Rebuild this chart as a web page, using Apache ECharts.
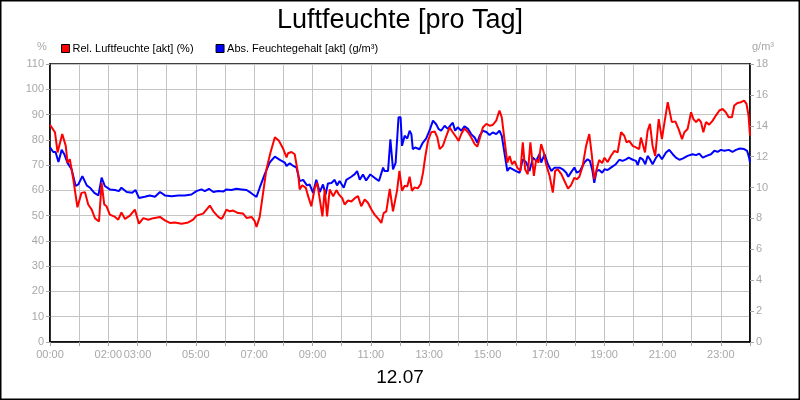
<!DOCTYPE html>
<html><head><meta charset="utf-8">
<script src="https://cdn.jsdelivr.net/npm/echarts@6/dist/echarts.min.js"></script>
<style>html,body{margin:0;padding:0;background:#fff}#c{width:800px;height:400px}</style>
</head><body><div id="c"></div>
<script>
var relHours = [0,0.17,0.26,0.42,0.54,0.6,0.68,0.8,0.94,1.08,1.2,1.31,1.43,1.54,1.68,1.77,1.86,1.94,2.05,2.23,2.34,2.45,2.57,2.74,2.91,3.05,3.2,3.37,3.54,3.77,3.94,4.11,4.28,4.51,4.74,4.91,5.02,5.25,5.48,5.6,5.77,5.88,5.94,6.05,6.16,6.28,6.45,6.62,6.74,6.91,7.02,7.08,7.19,7.31,7.42,7.56,7.71,7.85,7.99,8.11,8.16,8.28,8.39,8.51,8.56,8.65,8.77,8.85,8.96,9.08,9.16,9.25,9.34,9.42,9.5,9.59,9.71,9.82,9.91,10.02,10.1,10.22,10.33,10.45,10.56,10.67,10.79,10.9,11.02,11.13,11.28,11.36,11.44,11.53,11.65,11.76,11.82,11.9,11.98,12.07,12.16,12.25,12.33,12.41,12.5,12.61,12.71,12.79,12.87,12.96,13.07,13.19,13.28,13.36,13.47,13.59,13.7,13.81,13.93,14.01,14.1,14.21,14.33,14.44,14.56,14.65,14.73,14.84,14.96,15.07,15.18,15.3,15.41,15.49,15.58,15.68,15.76,15.84,15.93,16.02,16.13,16.21,16.29,16.38,16.47,16.59,16.67,16.75,16.84,16.93,17.01,17.13,17.24,17.32,17.41,17.53,17.64,17.76,17.86,17.98,18.06,18.15,18.26,18.38,18.49,18.58,18.66,18.74,18.83,18.93,19.01,19.12,19.23,19.35,19.46,19.58,19.69,19.77,19.86,19.98,20.09,20.2,20.26,20.32,20.4,20.49,20.57,20.66,20.75,20.87,20.98,21.06,21.18,21.23,21.32,21.44,21.55,21.67,21.75,21.86,21.98,22.06,22.15,22.24,22.32,22.4,22.49,22.6,22.72,22.83,22.95,23.06,23.17,23.27,23.38,23.46,23.57,23.69,23.8,23.88,23.95,24.0];
var relValues = [85.9,83,75,82.3,77.6,71,72.3,64.3,53.3,59,59.3,54.4,52.4,49,47.7,63,54.4,53.7,50.4,49.5,48.4,51.3,48.7,50,52.4,46.8,49,48.4,49,49.5,48.1,47.1,47.3,46.8,47.3,48.4,50,50.8,54,51.7,49.5,48.7,49.7,52.4,51.7,52,51,50.8,49.1,49.5,47.8,45.5,49.5,59.3,68.3,75,81,79.6,76.6,73,74.7,75.2,74.3,66.3,60.4,62,61,57.7,53.7,61,63,56.4,49.7,60.4,49.7,60.4,57.7,60.1,58.3,56.9,54.4,56,55.6,56.9,57.7,53.7,56.4,55.1,52.4,50.4,48.4,47.1,51,51.7,60.6,51.7,52,60,67.7,59.8,61.8,61.5,65.4,59.8,61.2,60.8,62.5,67,73.6,79.6,83,83.3,81,76.3,77.6,81.6,84.9,83,81,79.6,82.3,84.5,83,81,78.3,77.3,80.3,84.9,86.3,85.6,85.9,87.6,91.6,88.9,80.3,71,73.6,70.3,71.6,69,67.7,79,68.3,66.4,79,65.7,72.3,71,78.3,75,70.3,65.7,59.1,67.7,68.3,66.4,63.7,60.7,62,65,64.4,65.4,69.5,77.6,82.3,73.6,64.4,68.3,72,70.8,72.9,71.2,73.6,75.6,75,83,81.6,79,79.6,77.6,77,76.3,80.9,81.6,75,83.6,86.3,77.6,73.6,88.2,80.3,86.3,94.9,95.5,87,87.3,84.3,80.3,83,84.3,90.9,88.2,87,88.2,87,83,87,86,87.6,89.6,91.6,92.2,90.9,88.9,88.9,93.6,94.6,94.9,95.5,94.2,89.6,81.6];
var absHours = [0,0.11,0.19,0.29,0.4,0.49,0.6,0.74,0.88,0.97,1.11,1.26,1.37,1.52,1.66,1.77,1.88,2.05,2.23,2.36,2.45,2.63,2.82,2.93,3.05,3.25,3.42,3.6,3.77,3.94,4.17,4.4,4.62,4.85,5.02,5.19,5.31,5.45,5.6,5.77,5.95,6.05,6.22,6.39,6.57,6.74,6.85,6.96,7.08,7.19,7.36,7.53,7.71,7.88,8.05,8.11,8.22,8.34,8.45,8.56,8.68,8.81,8.9,9.02,9.13,9.25,9.36,9.45,9.53,9.65,9.76,9.84,9.93,10.07,10.16,10.33,10.45,10.53,10.62,10.73,10.84,10.98,11.13,11.28,11.42,11.47,11.59,11.67,11.76,11.85,11.95,12.02,12.07,12.16,12.25,12.33,12.39,12.44,12.52,12.67,12.78,12.9,13.01,13.13,13.24,13.32,13.41,13.53,13.64,13.73,13.81,13.89,13.98,14.1,14.21,14.33,14.44,14.56,14.65,14.73,14.84,14.96,15.07,15.18,15.3,15.41,15.49,15.58,15.68,15.76,15.87,15.98,16.1,16.21,16.33,16.44,16.56,16.67,16.78,16.84,16.96,17.07,17.19,17.3,17.35,17.47,17.58,17.7,17.77,17.87,17.98,18.06,18.17,18.32,18.43,18.51,18.6,18.66,18.74,18.83,18.93,19.01,19.12,19.23,19.4,19.52,19.63,19.75,19.84,19.98,20.09,20.15,20.23,20.32,20.41,20.49,20.57,20.66,20.78,20.87,20.98,21.12,21.23,21.35,21.46,21.58,21.69,21.86,22.03,22.15,22.26,22.38,22.51,22.66,22.78,22.89,23.0,23.12,23.27,23.4,23.52,23.65,23.8,23.9,23.97,24.0];
var absValues = [12.6,12.3,12.3,11.65,12.44,12.16,11.6,11.18,10.1,10.2,10.74,10.14,9.99,9.66,9.49,10.64,10.1,9.88,9.84,9.77,9.99,9.71,9.66,9.84,9.33,9.4,9.49,9.4,9.71,9.49,9.44,9.49,9.49,9.55,9.77,9.88,9.77,9.92,9.71,9.77,9.75,9.88,9.84,9.92,9.88,9.84,9.71,9.55,9.4,9.99,10.85,11.62,12.0,11.79,11.62,11.4,11.57,11.4,11.3,10.42,10.5,10.14,10.2,9.66,10.5,9.71,10.2,9.55,10.27,10.3,10.5,10.14,10.42,9.99,10.5,10.7,10.87,11.07,10.5,10.85,10.46,10.85,10.63,10.42,11.29,11.07,11.07,13.13,11.18,11.6,14.55,14.55,12.7,13.35,13.18,13.68,13.46,12.48,12.59,12.48,12.9,13.18,13.68,14.33,14.1,13.8,13.68,14.0,13.8,14.03,14.2,13.68,13.9,13.68,13.97,13.8,13.46,13.24,12.9,13.35,13.68,13.6,13.4,13.57,13.46,13.68,13.35,12.27,11.07,11.29,11.18,11.07,10.96,11.83,11.62,11.07,11.94,11.73,12.16,11.62,12.16,11.51,11.07,11.29,11.4,11.29,11.18,10.96,10.7,11.0,11.3,10.96,11.07,11.62,11.83,11.73,11.07,10.31,11.07,11.14,10.96,11.18,11.14,11.29,11.51,11.8,11.73,11.83,11.94,11.8,11.73,11.45,11.94,11.83,11.51,12.05,11.83,11.51,11.94,12.16,11.83,12.27,12.44,12.16,11.94,11.8,11.87,12.05,12.16,12.1,12.2,11.94,12.05,12.16,12.38,12.31,12.44,12.38,12.44,12.31,12.44,12.53,12.49,12.38,11.94,11.62];
var shownHourLabels = [0,2,3,5,7,9,11,13,15,17,19,21,23];
var titleText = 'Luftfeuchte [pro Tag]';
var dateText = '12.07';
var relName = 'Rel. Luftfeuchte [akt] (%)';
var absName = 'Abs. Feuchtegehalt [akt] (g/m\u00b3)';

function pairs(h, v){ return h.map(function(x,i){ return [x, v[i]]; }); }
var FONT = 'Liberation Sans, Arial, sans-serif';
var grey = '#a8a8a8';
var chart = echarts.init(document.getElementById('c'), null, {renderer:'canvas'});
chart.setOption({
  animation:false,
  backgroundColor:'#fff',
  title:{text:titleText,left:'center',top:2,textStyle:{fontFamily:FONT,fontSize:27,fontWeight:'normal',color:'#000'}},
  legend:{left:56,top:38,itemWidth:8,itemHeight:8,itemGap:22,icon:'rect',
    textStyle:{fontFamily:FONT,fontSize:11,color:'#000',padding:[0,0,0,-2]},
    itemStyle:{borderColor:'#000',borderWidth:1},
    data:[{name:relName},{name:absName}]},
  grid:{left:50,right:50,top:64,bottom:58,show:true,borderColor:'#000',borderWidth:1.5},
  xAxis:{type:'value',min:0,max:24,interval:1,
    axisLine:{show:true,lineStyle:{color:'#000',width:1.5}},
    axisTick:{show:true,length:4,lineStyle:{color:grey}},
    splitLine:{show:true,lineStyle:{color:'#c4c4c4',width:1}},
    axisLabel:{color:grey,fontFamily:FONT,fontSize:11,margin:7,showMaxLabel:true,showMinLabel:true,
      formatter:function(v){ return shownHourLabels.indexOf(v)>=0 ? (v<10?'0':'')+v+':00' : ''; }}},
  yAxis:[
    {type:'value',min:0,max:110,interval:10,position:'left',
      axisLine:{show:true,lineStyle:{color:'#000',width:1.5}},
      axisTick:{show:true,length:4,lineStyle:{color:grey}},
      splitLine:{show:true,lineStyle:{color:'#c4c4c4',width:1}},
      axisLabel:{color:grey,fontFamily:FONT,fontSize:11,margin:6}},
    {type:'value',min:0,max:18,interval:2,position:'right',
      axisLine:{show:true,lineStyle:{color:'#000',width:1.5}},
      axisTick:{show:true,length:4,lineStyle:{color:grey}},
      splitLine:{show:false},
      axisLabel:{color:grey,fontFamily:FONT,fontSize:11,margin:6}}
  ],
  graphic:[
    {type:'rect',shape:{x:0.75,y:0.75,width:798.5,height:398.5},style:{fill:null,stroke:'#000',lineWidth:1.5},silent:true},
    {type:'text',left:37,top:41,style:{text:'%',fill:grey,font:'11px '+FONT}},
    {type:'text',left:752,top:41,style:{text:'g/m\u00b3',fill:grey,font:'11px '+FONT}},
    {type:'text',left:'center',top:368,style:{text:dateText,fill:'#000',font:'19px '+FONT}}
  ],
  series:[
    {name:relName,type:'line',yAxisIndex:0,data:pairs(relHours,relValues),showSymbol:false,symbol:'none',
      lineStyle:{color:'#ff0000',width:2},itemStyle:{color:'#ff0000'},z:3},
    {name:absName,type:'line',yAxisIndex:1,data:pairs(absHours,absValues),showSymbol:false,symbol:'none',
      lineStyle:{color:'#0000ff',width:2},itemStyle:{color:'#0000ff'},z:2}
  ]
});
</script></body></html>
